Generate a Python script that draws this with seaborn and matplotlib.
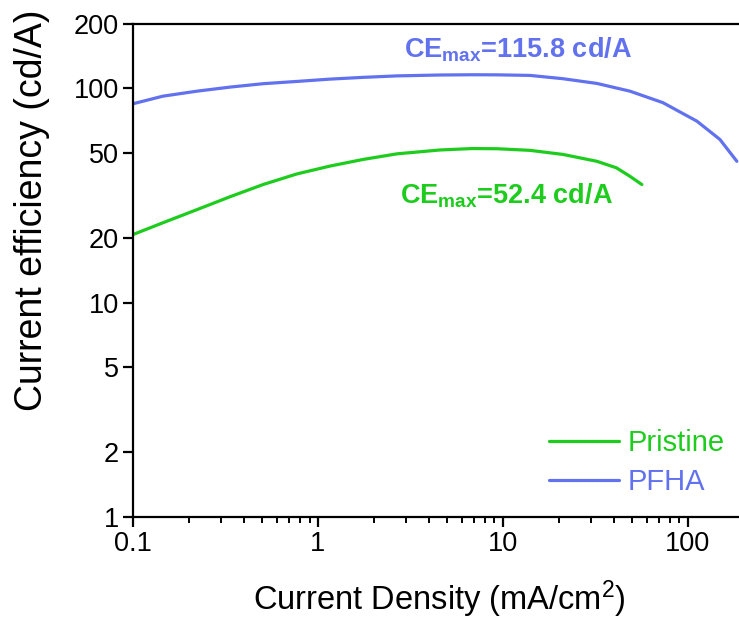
import matplotlib
matplotlib.use("Agg")
import matplotlib.pyplot as plt
import seaborn as sns
import pandas as pd
from matplotlib.ticker import FixedLocator, FixedFormatter, LogLocator, NullFormatter

# ---- data ----
pristine_x = [0.1, 0.145, 0.222, 0.334, 0.505, 0.77, 1.16, 1.75, 2.67, 4.56, 6.8, 9.3, 14.0,
              21.1, 32.2, 41.1, 48.6, 56.4]
pristine_y = [20.8, 23.6, 27.2, 31.2, 35.6, 39.9, 43.4, 46.6, 49.5, 51.6, 52.4, 52.3, 51.4,
              49.2, 45.7, 42.6, 38.9, 35.6]
pfha_x = [0.1, 0.145, 0.222, 0.334, 0.505, 0.77, 1.16, 1.75, 2.67, 4.56, 6.8, 9.3, 14.0,
          21.1, 32.2, 48.6, 73.3, 112, 149, 184]
pfha_y = [84.8, 92.0, 97.1, 101.4, 105.2, 107.8, 110.5, 112.6, 114.4, 115.5, 115.8, 115.7, 115.0,
          111.0, 105.5, 97.1, 85.8, 70.3, 57.8, 45.7]
series_names = ["Pristine", "PFHA"]
y_ticks = [1, 2, 5, 10, 20, 50, 100, 200]
x_ticks = [0.1, 1, 10, 100]
x_tick_labels = ["0.1", "1", "10", "100"]
ann_pristine = "52.4"
ann_pfha = "115.8"

green = "#1ECC1E"
blue = "#6272EE"

sns.set_theme(style="ticks")
plt.rcParams["font.family"] = ["Liberation Sans", "DejaVu Sans"]
plt.rcParams["mathtext.fontset"] = "custom"
plt.rcParams["mathtext.rm"] = "Liberation Sans"
plt.rcParams["mathtext.it"] = "Liberation Sans:italic"
plt.rcParams["mathtext.bf"] = "Liberation Sans:bold"
plt.rcParams["text.color"] = "black"
plt.rcParams["axes.labelcolor"] = "black"

df = pd.concat([
    pd.DataFrame({"x": pristine_x, "y": pristine_y, "s": series_names[0]}),
    pd.DataFrame({"x": pfha_x, "y": pfha_y, "s": series_names[1]}),
])

fig = plt.figure(figsize=(7.39, 6.21), dpi=100)
ax = fig.add_axes([0.18, 0.1675, 0.82, 0.794])
sns.lineplot(data=df, x="x", y="y", hue="s", palette=[green, blue], sort=False,
             estimator=None, linewidth=2.3, ax=ax)
ax.set_xscale("log")
ax.set_yscale("log")
ax.set_xlim(0.1, 189)
ax.set_ylim(1, 200)

ax.yaxis.set_major_locator(FixedLocator(y_ticks))
ax.yaxis.set_major_formatter(FixedFormatter([str(v) for v in y_ticks]))
ax.yaxis.set_minor_locator(FixedLocator([]))
ax.xaxis.set_major_locator(FixedLocator(x_ticks))
ax.xaxis.set_major_formatter(FixedFormatter(x_tick_labels))
ax.xaxis.set_minor_locator(LogLocator(base=10, subs=range(2, 10)))
ax.xaxis.set_minor_formatter(NullFormatter())

for sp in ["left", "bottom", "top"]:
    ax.spines[sp].set_linewidth(1.6)
    ax.spines[sp].set_color("black")
ax.spines["right"].set_visible(False)
ax.tick_params(axis="both", which="major", direction="out", length=7, width=1.6,
               labelsize=19.5, colors="black", pad=3)
ax.tick_params(axis="x", which="minor", direction="out", length=4, width=1.4, colors="black")
ax.tick_params(top=False, right=False, which="both")

ax.set_xlabel("Current Density (mA/cm$^2$)", fontsize=23.5)
ax.set_ylabel("Current efficiency (cd/A)", fontsize=27)
ax.xaxis.set_label_coords(0.505, -0.125)
ax.yaxis.set_label_coords(-0.137, 0.623)

ax.text(0.448, 0.947, "CE$_{\\mathbf{max}}$=" + ann_pfha + " cd/A", transform=ax.transAxes,
        color=blue, fontsize=19.5, fontweight="bold", va="center", ha="left")
ax.text(0.44, 0.651, "CE$_{\\mathbf{max}}$=" + ann_pristine + " cd/A", transform=ax.transAxes,
        color=green, fontsize=19.5, fontweight="bold", va="center", ha="left")

leg = ax.legend(loc="lower right", bbox_to_anchor=(1.0, 0.012), frameon=False, fontsize=21,
                handlelength=2.4, handletextpad=0.3, labelspacing=0.38, borderaxespad=0.1,
                labelcolor="linecolor")
for line in leg.get_lines():
    line.set_linewidth(2.3)

fig.savefig("out.png", dpi=100)
